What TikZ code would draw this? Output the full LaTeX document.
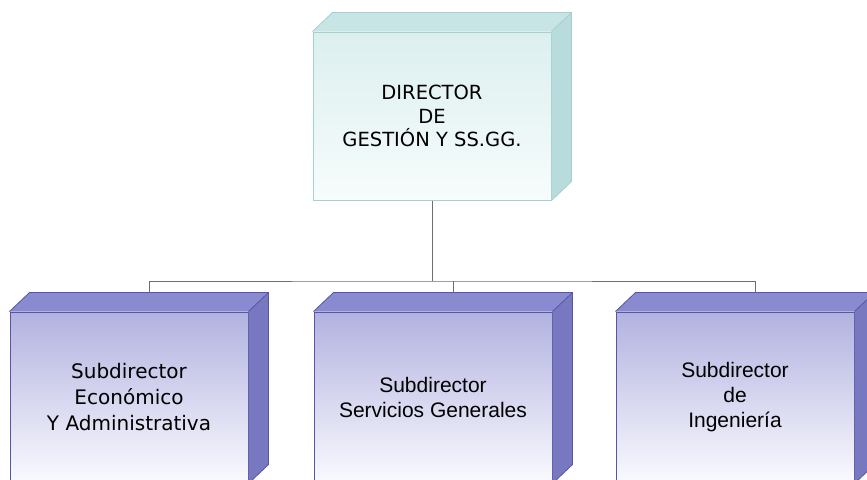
\documentclass[tikz,border=0pt]{standalone}
\usepackage{fontspec}
\setmainfont{Liberation Sans}
\newfontfamily\verd{DejaVu Sans}
\definecolor{tfront}{HTML}{DCEFEF}
\definecolor{tfrontb}{HTML}{F7FCFC}
\definecolor{ttop}{HTML}{C8E5E5}
\definecolor{tside}{HTML}{B8DBDB}
\definecolor{tline}{HTML}{A6CFCF}
\definecolor{bfront}{HTML}{B2B2E0}
\definecolor{bfrontb}{HTML}{FAFAFF}
\definecolor{btop}{HTML}{8A8AD0}
\definecolor{bside}{HTML}{7878C0}
\definecolor{bline}{HTML}{5656A6}
\definecolor{conn}{HTML}{6E6E6E}
\tikzset{
  topface/.style={minimum width=238pt, minimum height=168pt, draw=tline, line width=1pt,
    top color=tfront, bottom color=tfrontb, align=center, inner sep=0pt,
    font=\verd\fontsize{19.5}{23.5}\selectfont},
  subface/.style={minimum width=238pt, minimum height=171pt, draw=bline, line width=1pt,
    top color=bfront, bottom color=bfrontb, align=center, inner sep=0pt,
    font=\fontsize{21}{25}\selectfont},
  connline/.style={draw=conn, line width=1pt}
}
\newcommand{\boxsides}[4]{%
  \fill[#2] (#1.north west) -- ++(20,-19) -- ([shift={(20,-19)}]#1.north east) -- (#1.north east) -- cycle;
  \fill[#3] (#1.north east) -- ++(20,-19) -- ([shift={(20,-19)}]#1.south east) -- (#1.south east) -- cycle;
  \draw[#4, line width=0.8pt, line join=round] (#1.north west) -- ++(20,-19) -- ([shift={(20,-19)}]#1.north east) -- ([shift={(20,-19)}]#1.south east) -- (#1.south east);
  \draw[#4, line width=0.8pt] (#1.north east) -- ++(20,-19);
}
\begin{document}
\begin{tikzpicture}[x=1pt,y=-1pt]
\useasboundingbox (0,0) rectangle (867,479);
\clip (0,0) rectangle (867,479);
\fill[white] (0,0) rectangle (867,479);
% top box
\node[topface] (dir) at (432,116) {DIRECTOR\\DE\\GESTIÓN Y SS.GG.};
\boxsides{dir}{ttop}{tside}{tline}
% subordinate boxes
\node[subface, font=\verd\fontsize{20}{26}\selectfont] (sea) at (129,397.5) {Subdirector\\Económico\\Y Administrativa};
\node[subface] (ssg) at (433,397.5) {Subdirector\\Servicios Generales};
\node[subface] (sin) at (735,397.5) {Subdirector\\de\\Ingeniería};
\boxsides{sea}{btop}{bside}{bline}
\boxsides{ssg}{btop}{bside}{bline}
\boxsides{sin}{btop}{bside}{bline}
% connectors
\coordinate (sea-t) at ([shift={(20,-19)}]sea.north);
\coordinate (ssg-t) at ([shift={(20,-19)}]ssg.north);
\coordinate (sin-t) at ([shift={(20,-19)}]sin.north);
\coordinate (bus) at (432,281);
\draw[connline] (dir.south) -- (bus);
\draw[connline] (sea-t) |- (bus) -| (sin-t);
\draw[connline] (ssg-t) -- (ssg-t |- bus);
\end{tikzpicture}
\end{document}
